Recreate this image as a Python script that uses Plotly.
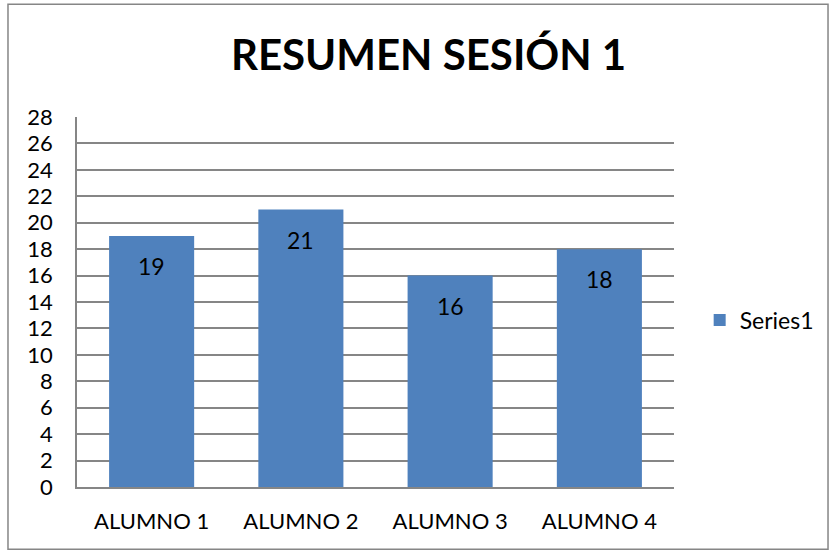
import plotly.graph_objects as go

categories = ["ALUMNO 1", "ALUMNO 2", "ALUMNO 3", "ALUMNO 4"]
values = [19, 21, 16, 18]
series_name = "Series1"
title_text = "RESUMEN SESIÓN 1"

BAR_COLOR = "#4F81BD"
GRID_COLOR = "#868686"
FONT = "Lato, Calibri, Arial, sans-serif"

fig = go.Figure()

fig.add_trace(
    go.Bar(
        x=categories,
        y=values,
        name=series_name,
        marker=dict(color=BAR_COLOR, line=dict(width=0)),
        showlegend=True,
        hoverinfo="x+y",
    )
)

# data labels sit a little below the top of each bar, like Excel's "inside end"
for cat, val in zip(categories, values):
    fig.add_annotation(
        x=cat,
        y=val,
        text=str(val),
        showarrow=False,
        yanchor="middle",
        yshift=-30,
        font=dict(size=23, color="black", family=FONT),
    )

# outer chart border
fig.add_shape(
    type="rect",
    xref="paper",
    yref="paper",
    x0=-0.1156,
    x1=1.258,
    y0=-0.168,
    y1=1.305,
    line=dict(color=GRID_COLOR, width=1.5),
    fillcolor="rgba(0,0,0,0)",
    layer="below",
)

fig.update_layout(
    width=837,
    height=553,
    paper_bgcolor="white",
    plot_bgcolor="white",
    margin=dict(l=77, r=163, t=117, b=66),
    bargap=0.43,
    font=dict(family=FONT, color="black", size=22),
    title=dict(
        text="<b>" + title_text + "</b>",
        x=0.512,
        xanchor="center",
        y=0.9,
        yanchor="middle",
        font=dict(size=42, family=FONT, color="black"),
    ),
    legend=dict(
        x=1.043,
        y=0.451,
        xanchor="left",
        yanchor="middle",
        font=dict(size=23, family=FONT),
        itemwidth=30,
        bgcolor="rgba(0,0,0,0)",
    ),
    xaxis=dict(
        showgrid=False,
        showline=True,
        linecolor=GRID_COLOR,
        linewidth=1.5,
        ticks="",
        ticklabelstandoff=14,
        tickfont=dict(size=22),
    ),
    yaxis=dict(
        range=[0, 28],
        dtick=2,
        showgrid=True,
        gridcolor=GRID_COLOR,
        gridwidth=1.5,
        showline=True,
        linecolor=GRID_COLOR,
        linewidth=1.5,
        zeroline=False,
        ticks="",
        ticklabelstandoff=18,
        tickfont=dict(size=22),
    ),
)

fig.write_html(
    "out.html",
    config={"displayModeBar": False},
    post_script="document.body.style.margin='0';",
)
